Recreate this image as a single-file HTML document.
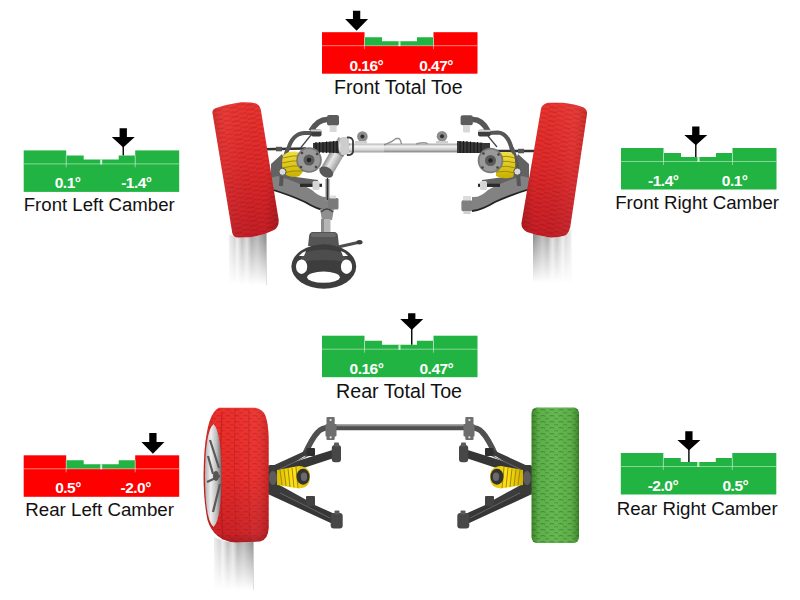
<!DOCTYPE html>
<html><head><meta charset="utf-8"><style>
html,body{margin:0;padding:0;background:#fff;}
svg{display:block;}
.v{font-family:"Liberation Sans",sans-serif;font-weight:bold;font-size:15.5px;letter-spacing:-0.5px;fill:#fff;text-anchor:middle;}
.l{font-family:"Liberation Sans",sans-serif;fill:#111;}
</style></head><body>
<svg width="800" height="600" viewBox="0 0 800 600">
<defs>
  <linearGradient id="tireRf" x1="0" y1="0" x2="0" y2="1">
    <stop offset="0" stop-color="#ea3430"/>
    <stop offset="0.45" stop-color="#e02a2a"/>
    <stop offset="1" stop-color="#c41e26"/>
  </linearGradient>
  <linearGradient id="tireEdgeL" x1="0" y1="0" x2="1" y2="0">
    <stop offset="0" stop-color="#000" stop-opacity="0.10"/>
    <stop offset="0.2" stop-color="#fff" stop-opacity="0.04"/>
    <stop offset="0.8" stop-color="#000" stop-opacity="0"/>
    <stop offset="1" stop-color="#000" stop-opacity="0.16"/>
  </linearGradient>
  <linearGradient id="tireEdgeR" x1="0" y1="0" x2="1" y2="0">
    <stop offset="0" stop-color="#000" stop-opacity="0.14"/>
    <stop offset="0.2" stop-color="#000" stop-opacity="0"/>
    <stop offset="0.75" stop-color="#fff" stop-opacity="0.04"/>
    <stop offset="1" stop-color="#000" stop-opacity="0.12"/>
  </linearGradient>
  <linearGradient id="tireRr" x1="0" y1="0" x2="0" y2="1">
    <stop offset="0" stop-color="#ec302c"/>
    <stop offset="0.5" stop-color="#e82a28"/>
    <stop offset="0.93" stop-color="#cc2226"/>
    <stop offset="1" stop-color="#a81a20"/>
  </linearGradient>
  <linearGradient id="tireG" x1="0" y1="0" x2="1" y2="0">
    <stop offset="0" stop-color="#3c842b"/>
    <stop offset="0.15" stop-color="#5cae48"/>
    <stop offset="0.5" stop-color="#66b852"/>
    <stop offset="0.85" stop-color="#5cae48"/>
    <stop offset="1" stop-color="#3c842b"/>
  </linearGradient>
  <linearGradient id="shL" x1="0" y1="0" x2="1" y2="0">
    <stop offset="0" stop-color="#eeeeee"/>
    <stop offset="0.15" stop-color="#d4d4d4"/>
    <stop offset="0.22" stop-color="#ececec"/>
    <stop offset="0.35" stop-color="#bcbcbc"/>
    <stop offset="0.48" stop-color="#dcdcdc"/>
    <stop offset="0.6" stop-color="#a8a8a8"/>
    <stop offset="0.75" stop-color="#bababa"/>
    <stop offset="1" stop-color="#8a8a8a"/>
  </linearGradient>
  <linearGradient id="shR" x1="1" y1="0" x2="0" y2="0">
    <stop offset="0" stop-color="#eeeeee"/>
    <stop offset="0.15" stop-color="#d8d8d8"/>
    <stop offset="0.22" stop-color="#ececec"/>
    <stop offset="0.38" stop-color="#c0c0c0"/>
    <stop offset="0.5" stop-color="#dedede"/>
    <stop offset="0.62" stop-color="#a8a8a8"/>
    <stop offset="0.75" stop-color="#bcbcbc"/>
    <stop offset="1" stop-color="#8a8a8a"/>
  </linearGradient>
  <linearGradient id="shadowV2" x1="0" y1="0" x2="0" y2="1">
    <stop offset="0" stop-color="#fff" stop-opacity="0"/>
    <stop offset="0.1" stop-color="#fff" stop-opacity="0.05"/>
    <stop offset="1" stop-color="#fff" stop-opacity="1"/>
  </linearGradient>
  <pattern id="treadG" width="9" height="6" patternUnits="userSpaceOnUse">
    <path d="M0.5 2 Q3 1 5.5 2.2" stroke="#0a3000" stroke-opacity="0.32" stroke-width="1" fill="none"/>
    <path d="M5 5 Q7 4.2 9 5" stroke="#0a3000" stroke-opacity="0.26" stroke-width="1" fill="none"/>
  </pattern>
  <pattern id="treadFL" width="16" height="4.6" patternUnits="userSpaceOnUse" patternTransform="rotate(-9.7)">
    <path d="M0 3.2 Q2 2.2 4 2.8 T8 2.6" stroke="#500" stroke-opacity="0.32" stroke-width="0.9" fill="none"/>
    <path d="M8 1 Q10 0.3 12 0.9 T16 0.7" stroke="#500" stroke-opacity="0.26" stroke-width="0.9" fill="none"/>
  </pattern>
  <pattern id="treadFR" width="16" height="4.6" patternUnits="userSpaceOnUse" patternTransform="rotate(9.3)">
    <path d="M0 3.2 Q2 2.2 4 2.8 T8 2.6" stroke="#500" stroke-opacity="0.32" stroke-width="0.9" fill="none"/>
    <path d="M8 1 Q10 0.3 12 0.9 T16 0.7" stroke="#500" stroke-opacity="0.26" stroke-width="0.9" fill="none"/>
  </pattern>
  <pattern id="tread" width="9" height="6" patternUnits="userSpaceOnUse">
    <path d="M0.5 2 Q3 1 5.5 2.2" stroke="#600" stroke-opacity="0.26" stroke-width="1" fill="none"/>
    <path d="M5 5 Q7 4.2 9 5" stroke="#600" stroke-opacity="0.2" stroke-width="1" fill="none"/>
  </pattern>
  <linearGradient id="shadowV" x1="0" y1="0" x2="0" y2="1">
    <stop offset="0" stop-color="#fff" stop-opacity="0"/>
    <stop offset="0.15" stop-color="#fff" stop-opacity="0.05"/>
    <stop offset="1" stop-color="#fff" stop-opacity="1"/>
  </linearGradient>
  <linearGradient id="tube" x1="0" y1="0" x2="0" y2="1">
    <stop offset="0" stop-color="#9a9a9a"/>
    <stop offset="0.3" stop-color="#f2f2f2"/>
    <stop offset="0.7" stop-color="#c8c8c8"/>
    <stop offset="1" stop-color="#7a7a7a"/>
  </linearGradient>
  <linearGradient id="shaftG" x1="0" y1="0" x2="1" y2="0">
    <stop offset="0" stop-color="#8d8d8d"/>
    <stop offset="0.4" stop-color="#e8e8e8"/>
    <stop offset="1" stop-color="#9a9a9a"/>
  </linearGradient>
  <linearGradient id="springV" x1="0" y1="0" x2="0" y2="1">
    <stop offset="0" stop-color="#f0e040"/>
    <stop offset="1" stop-color="#c9b000"/>
  </linearGradient>
  <linearGradient id="springH" x1="0" y1="0" x2="1" y2="0">
    <stop offset="0" stop-color="#d8bc00"/>
    <stop offset="0.5" stop-color="#ffe21a"/>
    <stop offset="1" stop-color="#d0b000"/>
  </linearGradient>
  <linearGradient id="rim" x1="0" y1="0" x2="1" y2="0">
    <stop offset="0" stop-color="#b0b0b0"/>
    <stop offset="0.35" stop-color="#efefef"/>
    <stop offset="0.7" stop-color="#bdbdbd"/>
    <stop offset="1" stop-color="#6a6a6a"/>
  </linearGradient>
  <linearGradient id="plate" x1="0" y1="0" x2="0" y2="1">
    <stop offset="0" stop-color="#8a8a8a"/>
    <stop offset="1" stop-color="#5a5a5a"/>
  </linearGradient>
</defs>

<!-- ===== FRONT ===== -->
<!-- tire shadows (streaks) -->
<path d="M229 234 L236 237.6 L250 237.3 Q262 236 266.5 231 L266.5 285 L229 285 Z" fill="url(#shL)"/>
<path d="M229 234 L236 237.6 L250 237.3 Q262 236 266.5 231 L266.5 285 L229 285 Z" fill="url(#shadowV)"/>
<path d="M533 232 Q538 236 550 237.4 Q558 237.7 565 235.5 L571.5 229 L571.5 283 L533 283 Z" fill="url(#shR)"/>
<path d="M533 232 Q538 236 550 237.4 Q558 237.7 565 235.5 L571.5 229 L571.5 283 L533 283 Z" fill="url(#shadowV)"/>
<!-- tie rods -->
<line x1="262" y1="149.3" x2="306" y2="148.5" stroke="#333" stroke-width="2.4"/>
<rect x="276" y="146.8" width="6" height="4.5" fill="#555"/>
<line x1="494" y1="151" x2="538" y2="151" stroke="#333" stroke-width="2.4"/>
<rect x="518" y="148.8" width="6" height="4.5" fill="#555"/>

<!-- rack tube -->
<rect x="348" y="143.6" width="110" height="8.8" fill="url(#tube)"/>
<rect x="348" y="143.6" width="36" height="8.8" fill="#fff" fill-opacity="0.25"/>
<path d="M384 145 Q392 142 396 138.5 L399 138.5 Q401 140 401.5 144" stroke="#8e8e8e" stroke-width="1.4" fill="none"/>
<path d="M416 144 Q425 141.5 428 144" stroke="#999" stroke-width="1.3" fill="none"/>
<circle cx="362.4" cy="136.6" r="5.3" fill="#8c8c8c"/><circle cx="362.4" cy="136.6" r="2" fill="#2e2e2e"/>
<circle cx="442" cy="136.2" r="5.3" fill="#8c8c8c"/><circle cx="442" cy="136.2" r="2" fill="#2e2e2e"/>
<rect x="436" y="141" width="12" height="2.6" fill="#cfcfcf"/>
<rect x="355" y="141" width="12" height="2.6" fill="#cfcfcf"/>
<!-- pinion cylinder -->
<g transform="translate(344.5 140.5) rotate(30)">
  <rect x="-6.8" y="0" width="13.6" height="36" fill="url(#shaftG)"/>
  <rect x="-7" y="12" width="14" height="3" fill="#555" fill-opacity="0.5"/>
  <ellipse cx="0" cy="36.5" rx="7.5" ry="5" fill="#585858"/>
</g>

<!-- boots -->
<path d="M313 143 L338 141 L339 153 L313 152 Z" fill="#383838"/>
<path d="M457 141 L484 143 L490 143 L490 153 L484 153 L457 153 Z" fill="#383838"/>
<g stroke="#1a1a1a" stroke-width="1.1">
<line x1="316" y1="142" x2="316" y2="153"/><line x1="319.5" y1="142" x2="319.5" y2="153"/><line x1="323" y1="142" x2="323" y2="153"/><line x1="326.5" y1="141.5" x2="326.5" y2="153"/><line x1="330" y1="141.5" x2="330" y2="153"/><line x1="333.5" y1="141" x2="333.5" y2="153"/><line x1="337" y1="141" x2="337" y2="153"/>
<line x1="460" y1="141" x2="460" y2="153"/><line x1="463.5" y1="141" x2="463.5" y2="153"/><line x1="467" y1="141" x2="467" y2="153"/><line x1="470.5" y1="141.5" x2="470.5" y2="153"/><line x1="474" y1="142" x2="474" y2="153"/><line x1="477.5" y1="142" x2="477.5" y2="153"/><line x1="481" y1="142.5" x2="481" y2="153"/>
</g>
<!-- valve body -->
<rect x="340.5" y="137" width="8.5" height="18" rx="2" fill="#cdcdcd"/>
<path d="M347 137.5 Q352 137 353 141 L353 152 Q352 155.5 347 155" stroke="#3a3a3a" stroke-width="1.8" fill="none"/>
<!-- LEFT front suspension -->
<!-- knuckle plate -->
<path d="M271 164 L282 154 L288 168 L296 177 L318 180 L318 187 L292 187 L271 186 Z" fill="#626262"/>
<!-- lower arm -->
<path d="M328 197 Q320 198 312 190 Q300 183 278 176 L270 178 L270 189 Q290 195 305 202 Q318 210 328 211 Z" fill="#828282"/>
<path d="M270 189 Q290 195 305 202 Q318 210 328 211" stroke="#222" stroke-width="1.8" fill="none"/>
<path d="M300 185.3 L322 185.3" stroke="#2a2a2a" stroke-width="3.2"/>
<rect x="312.5" y="181" width="7" height="9" rx="1.5" fill="#d6d6d6"/>
<!-- upper arm -->
<path d="M288 150 Q292 134 304 133 L312 133" stroke="#565656" stroke-width="4" fill="none"/>
<path d="M300.5 148 L311 135" stroke="#444" stroke-width="1.2" fill="none"/>
<path d="M311 131 Q318 119 328 119.5" stroke="#565656" stroke-width="5.5" fill="none"/>
<rect x="327" y="115" width="12" height="10.6" rx="2" fill="#5c5c5c"/>
<rect x="329.7" y="125.6" width="7" height="6.5" rx="1" fill="#d8d8d8"/>
<rect x="311" y="129.5" width="10.5" height="7" rx="2" fill="#3d3d3d"/>
<rect x="311" y="129.5" width="10.5" height="2" fill="#cfcfcf"/>
<!-- spring -->
<path d="M288 148 Q282 162 281 186" stroke="#565656" stroke-width="4" fill="none"/>
<path d="M283 156 Q286 151 296 151.5 Q303 153 304 164 Q304 176 296 177 Q286 177 283 172 Q281 164 283 156 Z" fill="url(#springV)"/>
<g stroke="#9a8400" stroke-width="0.9" fill="none"><path d="M283 158 Q293 155 302 156"/><path d="M282 163 Q293 160 303 161"/><path d="M282 168 Q293 165 304 166"/><path d="M283 173 Q293 170 304 171"/></g>
<!-- hub disc -->
<circle cx="309" cy="160" r="12.8" fill="#7a7a7a"/>
<circle cx="309" cy="160" r="11" fill="#999"/>
<circle cx="309" cy="160" r="5.5" fill="#5a5a5a"/>
<circle cx="309" cy="160" r="2.3" fill="#222"/>
<circle cx="302" cy="153" r="1.3" fill="#444"/><circle cx="317" cy="154" r="1.3" fill="#444"/><circle cx="301" cy="167" r="1.3" fill="#444"/><circle cx="316" cy="167" r="1.3" fill="#444"/>
<circle cx="282.5" cy="171.8" r="3.6" fill="#dadada" stroke="#555" stroke-width="1"/>
<!-- steering column -->
<rect x="325.5" y="179" width="4" height="22" fill="#8a8a8a"/>
<line x1="327.5" y1="178" x2="327.5" y2="200" stroke="#2e2e2e" stroke-width="1.3"/>
<rect x="328" y="198" width="10.5" height="11.5" rx="1.5" fill="#7a7a7a"/>
<rect x="330" y="195.5" width="6" height="3" fill="#ddd"/>
<path d="M320 209 L334 209 L332 220 L322 220 Z" fill="#8f8f8f"/>
<path d="M321 212 Q327 206 333 212" stroke="#444" stroke-width="1.2" fill="none"/>
<rect x="321" y="219" width="9.5" height="14" fill="#b5b5b5"/>
<rect x="321" y="219" width="3" height="14" fill="#8a8a8a"/>
<path d="M312 232 L335 232 Q338 233 338 237 L339 246 L308 246 L309 237 Q309 233 312 232 Z" fill="#555"/>
<rect x="311" y="233" width="25" height="4" rx="2" fill="#6a6a6a"/>
<path d="M338 247 L358 242.5" stroke="#4e4e4e" stroke-width="3" stroke-linecap="round"/>
<ellipse cx="359.5" cy="242.3" rx="3" ry="2.2" fill="#3c3c3c"/>
<!-- steering wheel -->
<ellipse cx="323.8" cy="266.5" rx="32.4" ry="22.2" fill="#3d3d3d"/>
<path d="M303 253 Q323 246 344 253 L347 262 Q323 258 300 262 Z" fill="#4d4d4d"/>
<ellipse cx="301.6" cy="266.7" rx="5.6" ry="7.3" fill="#fff"/>
<ellipse cx="346.5" cy="266.7" rx="5.6" ry="7.3" fill="#fff"/>
<ellipse cx="323.5" cy="277.2" rx="16.3" ry="5.6" fill="#fff"/>
<path d="M299 256 Q302 252 306 251 L304 256 Z" fill="#fff"/>
<path d="M348 256 Q345 252 341 251 L343 256 Z" fill="#fff"/>

<!-- RIGHT front suspension -->
<path d="M529 164 L518 154 L512 168 L504 177 L482 180 L482 187 L508 187 L529 186 Z" fill="#626262"/>
<path d="M472 197 Q480 198 488 190 Q500 183 522 176 L530 178 L530 189 Q510 195 495 202 Q482 210 472 211 Z" fill="#828282"/>
<path d="M530 189 Q510 195 495 202 Q482 210 472 211" stroke="#222" stroke-width="1.8" fill="none"/>
<path d="M478 185.3 L500 185.3" stroke="#2a2a2a" stroke-width="3.2"/>
<rect x="480" y="181" width="7" height="9" rx="1.5" fill="#d6d6d6"/>
<rect x="461.4" y="200" width="11" height="11.5" rx="2.5" fill="#808080"/>
<rect x="463" y="196" width="8" height="4.5" rx="1" fill="#dcdcdc"/>
<rect x="463.5" y="211" width="7" height="3" fill="#cfcfcf"/>
<path d="M512 150 Q508 133 498 132.5 L489 133" stroke="#565656" stroke-width="4.2" fill="none"/>
<path d="M497 147 L488 136" stroke="#444" stroke-width="1.2" fill="none"/>
<path d="M488 131 Q482 119 472 119.5" stroke="#565656" stroke-width="5.5" fill="none"/>
<rect x="460.6" y="115.3" width="12.2" height="10" rx="2" fill="#5c5c5c"/>
<rect x="463" y="125.2" width="7" height="7.4" rx="1" fill="#d8d8d8"/>
<rect x="478" y="129.8" width="12.6" height="6.6" rx="2" fill="#3d3d3d"/>
<rect x="478" y="129.8" width="12.6" height="2" fill="#cfcfcf"/>
<path d="M512 148 Q518 162 519 186" stroke="#565656" stroke-width="4" fill="none"/>
<path d="M496 153 Q508 150 514 155 Q517 167 513 177 Q503 180 496 176 Z" fill="url(#springV)"/>
<g stroke="#9a8400" stroke-width="0.9" fill="none"><path d="M499 157 Q507 155 515 158"/><path d="M498 162 Q507 160 516 163"/><path d="M497 167 Q507 165 516 168"/><path d="M496 172 Q506 170 515 173"/></g>
<circle cx="490.5" cy="160.5" r="12.8" fill="#7a7a7a"/>
<circle cx="490.5" cy="160.5" r="11" fill="#999"/>
<circle cx="490.5" cy="160.5" r="5.5" fill="#5a5a5a"/>
<circle cx="490.5" cy="160.5" r="2.3" fill="#222"/>
<circle cx="483.5" cy="153.5" r="1.3" fill="#444"/><circle cx="498.5" cy="154.5" r="1.3" fill="#444"/><circle cx="482.5" cy="167.5" r="1.3" fill="#444"/><circle cx="497.5" cy="167.5" r="1.3" fill="#444"/>
<circle cx="517.4" cy="171.6" r="3.6" fill="#dadada" stroke="#555" stroke-width="1"/>

<!-- front tires -->
<path d="M212.5 113 Q212 109.5 216 108 Q228 104 241 102.2 Q252 102 256.5 103.8 Q260.5 106 261 111 L278.5 219 Q279.5 227 274 230 Q262 236 250 237.3 L238 237.6 Q233.5 237.5 232.3 233 Z" fill="url(#tireRf)"/>
<path d="M212.5 113 Q212 109.5 216 108 Q228 104 241 102.2 Q252 102 256.5 103.8 Q260.5 106 261 111 L278.5 219 Q279.5 227 274 230 Q262 236 250 237.3 L238 237.6 Q233.5 237.5 232.3 233 Z" fill="url(#treadFL)"/>
<path d="M212.5 113 Q212 109.5 216 108 Q228 104 241 102.2 Q252 102 256.5 103.8 Q260.5 106 261 111 L278.5 219 Q279.5 227 274 230 Q262 236 250 237.3 L238 237.6 Q233.5 237.5 232.3 233 Z" fill="url(#tireEdgeL)"/>
<path d="M541 109 Q541.5 104.5 548 102.7 L562.5 102.7 Q575 104 583 107.2 Q587.5 109.5 587 114 L571 222 Q570 233 565 235.5 Q558 237.7 550 237.4 Q538 236 527 232 Q521 229 521.5 223 Z" fill="url(#tireRf)"/>
<path d="M541 109 Q541.5 104.5 548 102.7 L562.5 102.7 Q575 104 583 107.2 Q587.5 109.5 587 114 L571 222 Q570 233 565 235.5 Q558 237.7 550 237.4 Q538 236 527 232 Q521 229 521.5 223 Z" fill="url(#treadFR)"/>
<path d="M541 109 Q541.5 104.5 548 102.7 L562.5 102.7 Q575 104 583 107.2 Q587.5 109.5 587 114 L571 222 Q570 233 565 235.5 Q558 237.7 550 237.4 Q538 236 527 232 Q521 229 521.5 223 Z" fill="url(#tireEdgeR)"/>

<!-- ===== REAR ===== -->
<path d="M214 537 Q224 542 236 542.6 L253.5 542 L253.5 590 L214 590 Z" fill="url(#shL)"/>
<path d="M214 537 Q224 542 236 542.6 L253.5 542 L253.5 590 L214 590 Z" fill="url(#shadowV2)"/>
<!-- anti-roll bar -->
<path d="M304 456 Q312 438 318 432 Q322 427.5 330 427.4 L470 427.4 Q478 427.5 482 432 Q488 438 496 456" stroke="#505050" stroke-width="5.6" fill="none"/>
<path d="M334 425.6 L466 425.6" stroke="#8c8c8c" stroke-width="1.3" fill="none"/>
<g fill="#6e6e6e">
<rect x="326.5" y="417" width="8.2" height="23" rx="1"/><rect x="325.5" y="424" width="11" height="12.5" rx="1"/>
<rect x="465.3" y="417" width="8.2" height="23" rx="1"/><rect x="463.5" y="424" width="11" height="12.5" rx="1"/>
</g>
<g fill="#e8e8e8"><circle cx="330.6" cy="420" r="1.1"/><circle cx="330.6" cy="437.3" r="1.1"/><circle cx="469.4" cy="420" r="1.1"/><circle cx="469.4" cy="437.3" r="1.1"/></g>
<!-- left arms -->
<path d="M 334 449.5 L 272 469 L 270 479 L 334 458 Z" fill="#363636"/>
<path d="M 314 450 L 307 450 L 270 467 L 276 474 Z" fill="#3c3c3c"/>
<path d="M 310 455 L 280 469" stroke="#6a6a6a" stroke-width="0.9" fill="none"/>
<path d="M 336 514.5 L 272 486 L 270 495 L 334 524.5 Z" fill="#363636"/>
<path d="M 312 503 L 274 482 L 272 490 L 306 506 Z" fill="#3c3c3c"/>
<path d="M 330 518 L 280 493" stroke="#6a6a6a" stroke-width="0.9" fill="none"/>
<rect x="331.8" y="445" width="9.2" height="17.3" rx="3" fill="#474747"/>
<rect x="334" y="442.5" width="5" height="4" rx="1" fill="#5a5a5a"/>
<rect x="330.7" y="513" width="12" height="15.5" rx="3" fill="#474747"/>
<rect x="334.5" y="510.5" width="5" height="4" rx="1" fill="#5a5a5a"/>
<rect x="306.5" y="448" width="8.5" height="8" rx="1" fill="#2e2e2e"/>
<rect x="306" y="496" width="9" height="10" rx="1" fill="#424242"/>
<rect x="268" y="465" width="12" height="30" rx="2" fill="#3a3a3a"/>
<ellipse cx="273" cy="478" rx="4" ry="7" fill="#5c5c5c"/>
<path d="M 277 470 L 299 466 Q 310 466.5 310 477 Q 310 487.5 299 488.5 L 277 485 Z" fill="url(#springH)"/>
<g stroke="#a08a00" stroke-width="1" fill="none"><path d="M 280 470 L 282 485"/><path d="M 284 469.5 L 286 486"/><path d="M 288 468.5 L 290 487"/><path d="M 292 468 L 294 487.5"/><path d="M 296 467 L 298 488"/></g>
<ellipse cx="303" cy="476.7" rx="6.5" ry="8" fill="#333"/>
<ellipse cx="304" cy="476.7" rx="3.2" ry="4.2" fill="#6a6a6a"/>
<!-- right arms -->
<path d="M466 449.5 L528 469 L530 479 L466 458 Z" fill="#363636"/>
<path d="M486 450 L493 450 L530 467 L524 474 Z" fill="#3c3c3c"/>
<path d="M490 455 L520 469" stroke="#6a6a6a" stroke-width="0.9" fill="none"/>
<path d="M464 514.5 L528 486 L530 495 L466 524.5 Z" fill="#363636"/>
<path d="M488 503 L526 482 L528 490 L494 506 Z" fill="#3c3c3c"/>
<path d="M470 518 L520 493" stroke="#6a6a6a" stroke-width="0.9" fill="none"/>
<rect x="459" y="445" width="9.2" height="17.3" rx="3" fill="#474747"/>
<rect x="461" y="442.5" width="5" height="4" rx="1" fill="#5a5a5a"/>
<rect x="457.3" y="513" width="12" height="15.5" rx="3" fill="#474747"/>
<rect x="460.5" y="510.5" width="5" height="4" rx="1" fill="#5a5a5a"/>
<rect x="485" y="448" width="8.5" height="8" rx="1" fill="#2e2e2e"/>
<rect x="485" y="496" width="9" height="10" rx="1" fill="#424242"/>
<rect x="520" y="465" width="12" height="30" rx="2" fill="#3a3a3a"/>
<ellipse cx="527" cy="478" rx="4" ry="7" fill="#5c5c5c"/>
<path d="M523 470 L501 466 Q490 466.5 490 477 Q490 487.5 501 488.5 L523 485 Z" fill="url(#springH)"/>
<g stroke="#a08a00" stroke-width="1" fill="none"><path d="M520 470 L518 485"/><path d="M516 469.5 L514 486"/><path d="M512 468.5 L510 487"/><path d="M508 468 L506 487.5"/><path d="M504 467 L502 488"/></g>
<ellipse cx="497" cy="476.7" rx="6.5" ry="8" fill="#333"/>
<ellipse cx="496" cy="476.7" rx="3.2" ry="4.2" fill="#6a6a6a"/>

<!-- rear left tire -->
<path d="M219 407.8 L255 407.8 Q263 409 265.5 416 Q268.5 424 268.7 440 L268.7 528 Q268 540 260 541.5 L236 542.6 Q214 541 207.5 520 Q203.5 500 203.6 475 Q203.8 448 207 432 Q210.5 412 219 407.8 Z" fill="url(#tireRr)"/>
<path d="M219 407.8 L255 407.8 Q263 409 265.5 416 Q268.5 424 268.7 440 L268.7 528 Q268 540 260 541.5 L236 542.6 Q214 541 207.5 520 Q203.5 500 203.6 475 Q203.8 448 207 432 Q210.5 412 219 407.8 Z" fill="url(#tread)"/>
<path d="M219 407.8 L255 407.8 Q263 409 265.5 416 Q268.5 424 268.7 440 L268.7 528 Q268 540 260 541.5 L236 542.6 Q214 541 207.5 520 Q203.5 500 203.6 475 Q203.8 448 207 432 Q210.5 412 219 407.8 Z" fill="url(#tireEdgeR)"/>
<path d="M235 409 Q233 476 236 542" stroke="#a81c26" stroke-width="1" fill="none" stroke-opacity="0.45"/>
<path d="M249 409 Q248 476 250 542" stroke="#a81c26" stroke-width="1" fill="none" stroke-opacity="0.4"/>
<path d="M222 412 Q219 476 223 540" stroke="#8a1218" stroke-width="1.2" fill="none" stroke-opacity="0.35"/>
<path d="M213.5 424 Q221.5 432 221.5 476 Q221.5 520 213.5 527 Q205 520 205 476 Q205 432 213.5 424 Z" fill="url(#rim)"/>
<path d="M210 440 L219 468 M207 482 L220 476 M213 512 L220 484 M208 456 L213 474" stroke="#5a5a5a" stroke-width="2.2" fill="none"/>
<ellipse cx="216" cy="476" rx="3" ry="5" fill="#555"/>
<!-- rear right tire -->
<rect x="531.5" y="407.5" width="47.5" height="135.5" rx="5" ry="6" fill="url(#tireG)"/>
<rect x="531.5" y="407.5" width="47.5" height="135.5" rx="5" ry="6" fill="url(#treadG)"/>

<rect x="322" y="45.2" width="155.5" height="28.5" fill="#ff0000"/>
<rect x="322" y="32.2" width="42.5" height="13.5" fill="#ff0000"/>
<rect x="433.5" y="32.2" width="44.0" height="13.5" fill="#ff0000"/>
<path d="M364.5 45.7 V37.2 H382 V41.2 H417 V37.2 H433.5 V45.7 Z" fill="#22b443"/>
<rect x="322" y="45.2" width="155.5" height="1" fill="#fff" fill-opacity="0.45"/>
<rect x="364" y="37.2" width="1" height="12" fill="#fff" fill-opacity="0.45"/>
<rect x="433" y="37.2" width="1" height="12" fill="#fff" fill-opacity="0.45"/>
<rect x="398.5" y="41.2" width="2" height="5" fill="#fff" fill-opacity="0.8"/>
<text x="366.35" y="70.80" class="v">0.16°</text>
<text x="436.10" y="70.60" class="v">0.47°</text>
<text x="334.09" y="94" class="l" style="font-size:19.55px">Front Total Toe</text>
<path d="M352.95000000000005 10.8 H360.25 V19 H368.1 L356.6 30.7 L345.1 19 H352.95 Z" fill="#000"/>
<rect x="23.7" y="163.4" width="155.5" height="28.5" fill="#22b443"/>
<rect x="23.7" y="150.4" width="42.5" height="13.5" fill="#22b443"/>
<rect x="135.2" y="150.4" width="44.0" height="13.5" fill="#22b443"/>
<path d="M66.2 163.9 V155.4 H83.7 V159.4 H118.7 V155.4 H135.2 V163.9 Z" fill="#22b443"/>
<rect x="23.7" y="163.4" width="155.5" height="1" fill="#fff" fill-opacity="0.45"/>
<rect x="65.7" y="155.4" width="1" height="12" fill="#fff" fill-opacity="0.45"/>
<rect x="134.7" y="155.4" width="1" height="12" fill="#fff" fill-opacity="0.45"/>
<rect x="100.2" y="159.4" width="2" height="5" fill="#fff" fill-opacity="0.8"/>
<text x="67.60" y="188.00" class="v">0.1°</text>
<text x="136.35" y="188.00" class="v">-1.4°</text>
<text x="23.73" y="211.2" class="l" style="font-size:18.63px">Front Left Camber</text>
<path d="M119.6 128.25 H126.9 V137 H134.75 L123.25 147.5 L111.75 137 H119.60000000000001 Z" fill="#000"/>
<rect x="122.55" y="145.5" width="1.4" height="9.900000000000006" fill="#000"/>
<rect x="621" y="161" width="155.5" height="28.5" fill="#22b443"/>
<rect x="621" y="148" width="42.5" height="13.5" fill="#22b443"/>
<rect x="732.5" y="148" width="44.0" height="13.5" fill="#22b443"/>
<path d="M663.5 161.5 V153 H681 V157 H716 V153 H732.5 V161.5 Z" fill="#22b443"/>
<rect x="621" y="161" width="155.5" height="1" fill="#fff" fill-opacity="0.45"/>
<rect x="663" y="153" width="1" height="12" fill="#fff" fill-opacity="0.45"/>
<rect x="732" y="153" width="1" height="12" fill="#fff" fill-opacity="0.45"/>
<rect x="697.5" y="157" width="2" height="5" fill="#fff" fill-opacity="0.8"/>
<text x="663.30" y="186.00" class="v">-1.4°</text>
<text x="734.70" y="186.00" class="v">0.1°</text>
<text x="615.23" y="209.2" class="l" style="font-size:18.67px">Front Right Camber</text>
<path d="M692.15 126.4 H699.4499999999999 V135 H707.3 L695.8 145.2 L684.3 135 H692.15 Z" fill="#000"/>
<rect x="695.0999999999999" y="143.2" width="1.4" height="13.800000000000011" fill="#000"/>
<rect x="322" y="348.7" width="155.5" height="28.5" fill="#22b443"/>
<rect x="322" y="335.7" width="42.5" height="13.5" fill="#22b443"/>
<rect x="433.5" y="335.7" width="44.0" height="13.5" fill="#22b443"/>
<path d="M364.5 349.2 V340.7 H382 V344.7 H417 V340.7 H433.5 V349.2 Z" fill="#22b443"/>
<rect x="322" y="348.7" width="155.5" height="1" fill="#fff" fill-opacity="0.45"/>
<rect x="364" y="340.7" width="1" height="12" fill="#fff" fill-opacity="0.45"/>
<rect x="433" y="340.7" width="1" height="12" fill="#fff" fill-opacity="0.45"/>
<rect x="398.5" y="344.7" width="2" height="5" fill="#fff" fill-opacity="0.8"/>
<text x="366.50" y="373.90" class="v">0.16°</text>
<text x="436.40" y="373.90" class="v">0.47°</text>
<text x="336.03" y="397.6" class="l" style="font-size:19.66px">Rear Total Toe</text>
<path d="M408.1 313.2 H415.4 V319 H423.25 L411.75 330.1 L400.25 319 H408.09999999999997 Z" fill="#000"/>
<rect x="411.05" y="328.1" width="1.4" height="16.599999999999966" fill="#000"/>
<rect x="23.7" y="468.3" width="155.5" height="28.5" fill="#ff0000"/>
<rect x="23.7" y="455.3" width="42.5" height="13.5" fill="#ff0000"/>
<rect x="135.2" y="455.3" width="44.0" height="13.5" fill="#ff0000"/>
<path d="M66.2 468.8 V460.3 H83.7 V464.3 H118.7 V460.3 H135.2 V468.8 Z" fill="#22b443"/>
<rect x="23.7" y="468.3" width="155.5" height="1" fill="#fff" fill-opacity="0.45"/>
<rect x="65.7" y="460.3" width="1" height="12" fill="#fff" fill-opacity="0.45"/>
<rect x="134.7" y="460.3" width="1" height="12" fill="#fff" fill-opacity="0.45"/>
<rect x="100.2" y="464.3" width="2" height="5" fill="#fff" fill-opacity="0.8"/>
<text x="68.00" y="493.00" class="v">0.5°</text>
<text x="135.70" y="493.00" class="v">-2.0°</text>
<text x="25.22" y="516.2" class="l" style="font-size:18.73px">Rear Left Camber</text>
<path d="M149.25 433.1 H156.55 V441.9 H164.4 L152.9 453.7 L141.4 441.9 H149.25 Z" fill="#000"/>
<rect x="620.8" y="466" width="155.5" height="28.5" fill="#22b443"/>
<rect x="620.8" y="453" width="42.5" height="13.5" fill="#22b443"/>
<rect x="732.3" y="453" width="44.0" height="13.5" fill="#22b443"/>
<path d="M663.3 466.5 V458 H680.8 V462 H715.8 V458 H732.3 V466.5 Z" fill="#22b443"/>
<rect x="620.8" y="466" width="155.5" height="1" fill="#fff" fill-opacity="0.45"/>
<rect x="662.8" y="458" width="1" height="12" fill="#fff" fill-opacity="0.45"/>
<rect x="731.8" y="458" width="1" height="12" fill="#fff" fill-opacity="0.45"/>
<rect x="697.3" y="462" width="2" height="5" fill="#fff" fill-opacity="0.8"/>
<text x="662.90" y="491.30" class="v">-2.0°</text>
<text x="735.35" y="491.00" class="v">0.5°</text>
<text x="616.72" y="514.7" class="l" style="font-size:18.7px">Rear Right Camber</text>
<path d="M685.25 431.25 H692.55 V440 H700.4 L688.9 450.5 L677.4 440 H685.25 Z" fill="#000"/>
<rect x="688.1999999999999" y="448.5" width="1.4" height="13.5" fill="#000"/>
</svg>
</body></html>
